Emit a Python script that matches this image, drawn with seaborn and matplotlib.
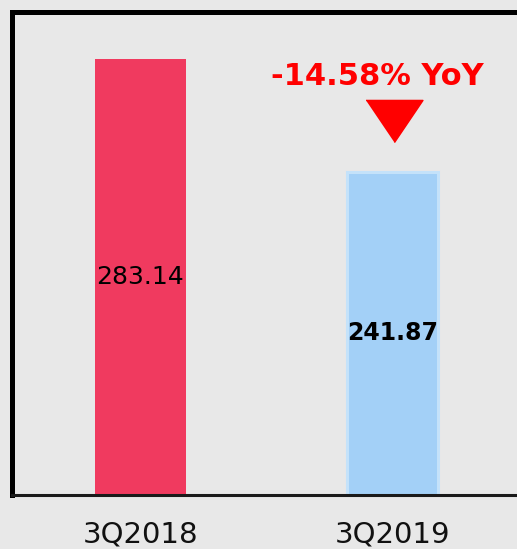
import matplotlib
matplotlib.use("Agg")
import matplotlib.pyplot as plt
import seaborn as sns
import pandas as pd

# data
quarters = ["3Q2018", "3Q2019"]
values = [283.14, 241.87]
bar_colors = ["#F03A5F", "#A3D0F7"]

df = pd.DataFrame({"quarter": quarters, "value": values})
yoy = (values[1] - values[0]) / values[0] * 100

sns.set_style("white")
plt.rcParams["font.family"] = ["DejaVu Sans"]

bg = "#E8E8E8"
fig = plt.figure(figsize=(5.17, 5.49), dpi=100)
fig.patch.set_facecolor(bg)
ax = fig.add_axes([11.5 / 517, 54 / 549, 530 / 517, 483 / 549])
ax.set_facecolor(bg)

sns.barplot(data=df, x="quarter", y="value", hue="quarter", palette=bar_colors,
            width=0.36, saturation=1, legend=False, ax=ax)
# no edge on the first bar, light border on the second
ax.patches[0].set_linewidth(0)
ax.patches[1].set_edgecolor("#C4E2FA")
ax.patches[1].set_linewidth(2.2)

lo, hi = 123.9, 300.3
ax.set_ylim(lo, hi)
ax.set_xlim(-0.51, 1.59)

# labels inside bars
ax.text(0, (lo + values[0]) / 2, f"{values[0]:.2f}", ha="center", va="center",
        fontsize=18, color="black")
ax.text(1, (lo + values[1]) / 2, f"{values[1]:.2f}", ha="center", va="center",
        fontsize=17, fontweight="bold", color="black")

# YoY change
ax.text(0.94, 276.6, f"{yoy:.2f}% YoY", ha="center", va="center",
        fontsize=22, fontweight="bold", color="#FF0000")
ax.plot(1.005, 260.5, marker=[(-1, 0.74), (1, 0.74), (0, -0.74)], ms=41,
        color="#FF0000", linestyle="none")

ax.set_xlabel("")
ax.set_ylabel("")
ax.set_yticks([])
ax.tick_params(axis="x", length=0, pad=18, labelsize=21, labelcolor="#111111")

for s in ["left", "top"]:
    ax.spines[s].set_linewidth(3.6)
    ax.spines[s].set_color("black")
ax.spines["bottom"].set_linewidth(2.2)
ax.spines["bottom"].set_color("#1A1A1A")
ax.spines["right"].set_visible(False)

fig.savefig("out.png", dpi=100, facecolor=fig.get_facecolor())
